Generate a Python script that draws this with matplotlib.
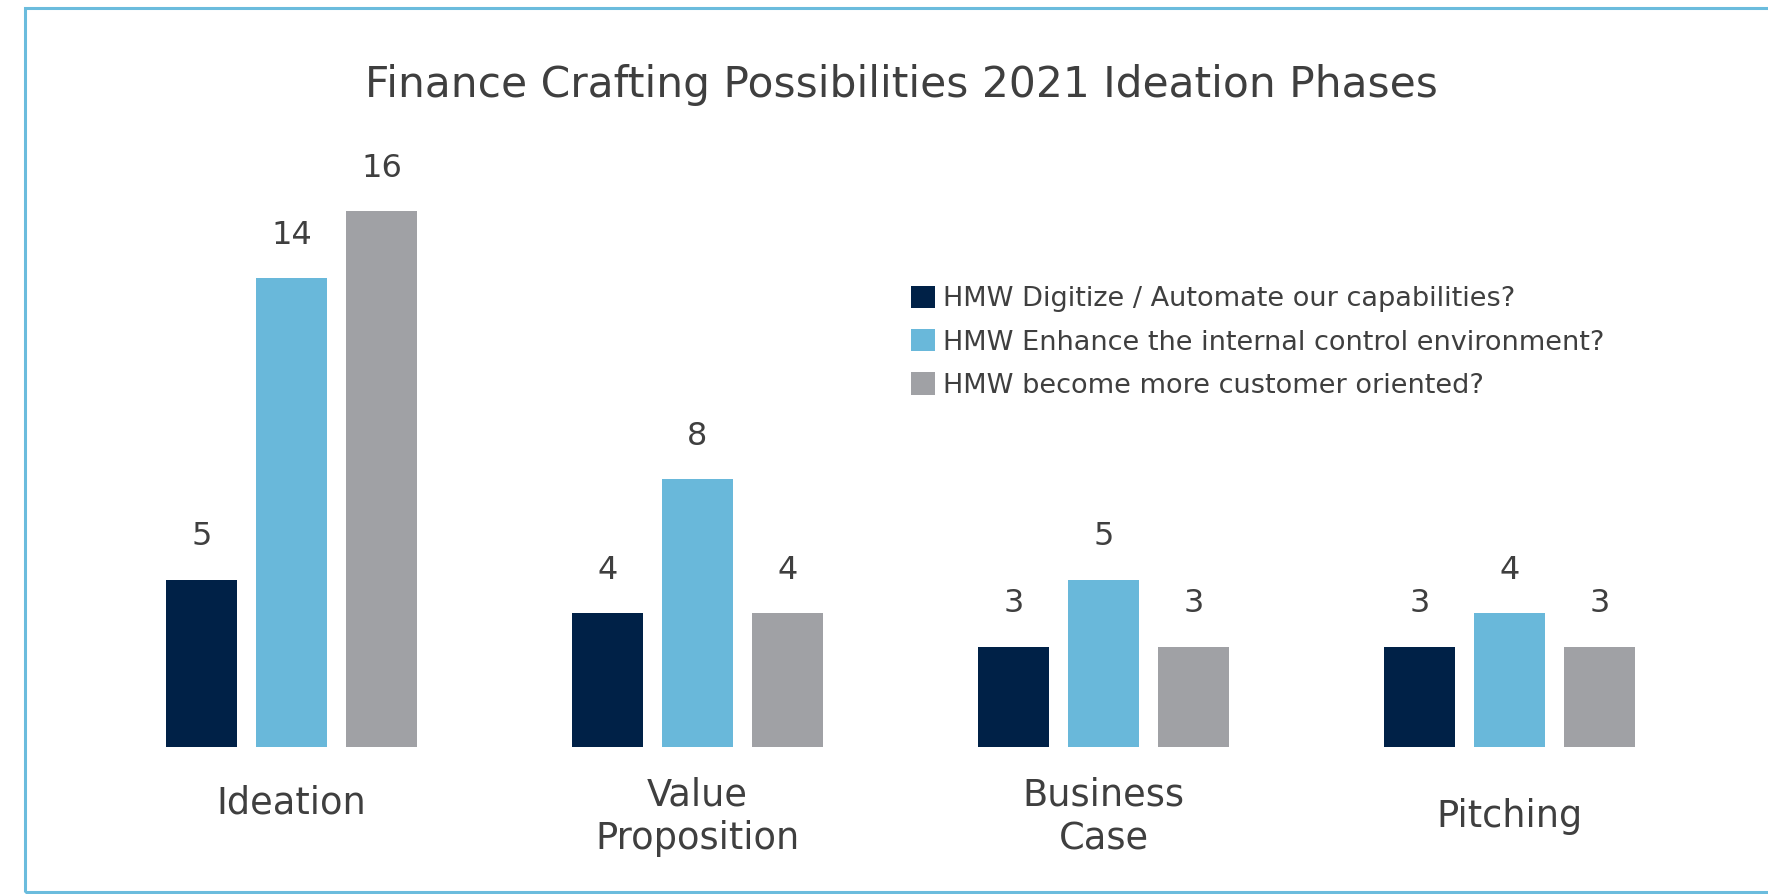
import matplotlib
matplotlib.use("Agg")
import matplotlib.pyplot as plt
import numpy as np
from matplotlib.patches import Rectangle

# Data
phases = ["Ideation", "Value\nProposition", "Business\nCase", "Pitching"]
series_names = [
    "HMW Digitize / Automate our capabilities?",
    "HMW Enhance the internal control environment?",
    "HMW become more customer oriented?",
]
digitize = [5, 4, 3, 3]
internal_control = [14, 8, 5, 4]
customer = [16, 4, 3, 3]

colors = ["#002147", "#69B8DA", "#A0A1A5"]
text_color = "#3F3F3F"
border_color = "#6BBCDD"

W, H = 1768, 894
fig = plt.figure(figsize=(W / 100, H / 100), dpi=100)
fig.patch.set_facecolor("white")

# Plot area placed in pixel terms: baseline ~747px from top, 33.5px per unit
ymax = 18
ax_left, ax_right = 88.5, 1712.5
ax_bottom = H - 747
ax_h = ymax * 33.5
ax = fig.add_axes([ax_left / W, ax_bottom / H, (ax_right - ax_left) / W, ax_h / H])
ax.set_xlim(-0.5, 3.5)
ax.set_ylim(0, ymax)
ax.axis("off")

x = np.arange(len(phases))
bw = 71 / 406
off = 90 / 406
series = [digitize, internal_control, customer]
for i, (vals, name, c) in enumerate(zip(series, series_names, colors)):
    bars = ax.bar(x + (i - 1) * off, vals, width=bw, color=c, label=name)
    for b, v in zip(bars, vals):
        ax.annotate(str(v), (b.get_x() + b.get_width() / 2, v),
                    xytext=(0, 24.5), textcoords="offset points",
                    ha="center", va="baseline", fontsize=23, color=text_color)

# Category labels under each group (pixel drop below the baseline per label)
label_drop_px = [56, 70, 70, 70]
for xi, lab, drop in zip(x, phases, label_drop_px):
    ax.annotate(lab, (xi, 0), xytext=(0, -drop / 1.389), textcoords="offset points",
                ha="center", va="center", fontsize=26.5, color=text_color,
                linespacing=1.24, annotation_clip=False)

fig.text(901 / W, 1 - 85 / H, "Finance Crafting Possibilities 2021 Ideation Phases",
         ha="center", va="center", fontsize=30.5, color=text_color)

leg = ax.legend(loc="upper left", bbox_to_anchor=(911 / W, 1 - 286 / H),
                bbox_transform=fig.transFigure, frameon=False, fontsize=19.5,
                handlelength=0.88, handleheight=0.88, handletextpad=0.3,
                labelspacing=0.62, borderpad=0, borderaxespad=0)
for t in leg.get_texts():
    t.set_color(text_color)

# Outer frame, open on the right edge
fig.add_artist(Rectangle((25 / W, 2 / H), 1.2, (H - 8 - 2) / H,
                         transform=fig.transFigure, fill=False,
                         edgecolor=border_color, linewidth=2.2, clip_on=False))

fig.savefig("out.png", dpi=100, facecolor="white")
